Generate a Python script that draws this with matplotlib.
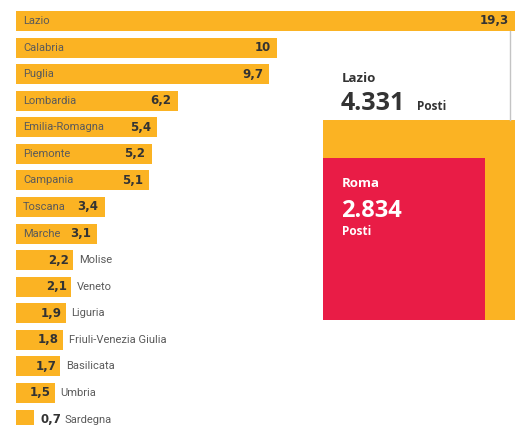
import matplotlib.pyplot as plt
import numpy as np
from matplotlib.patches import Rectangle

# posti per regione (valori in migliaia)
regioni = ["Lazio", "Calabria", "Puglia", "Lombardia", "Emilia-Romagna",
           "Piemonte", "Campania", "Toscana", "Marche", "Molise", "Veneto",
           "Liguria", "Friuli-Venezia Giulia", "Basilicata", "Umbria", "Sardegna"]
valori = [19.3, 10, 9.7, 6.2, 5.4, 5.2, 5.1, 3.4, 3.1, 2.2, 2.1, 1.9, 1.8,
          1.7, 1.5, 0.7]

posti_regione = 4331
posti_citta = 2834

YELLOW = "#fbb323"
RED = "#e91c46"
DARK = "#333333"
GREY = "#5a5a5a"
VAL_FONT = "DejaVu Sans"
BOX_FONT = "Open Sans"
NAME_FONT = "Roboto"

W, H = 515, 425
fig = plt.figure(figsize=(W / 100, H / 100), dpi=100)
fig.patch.set_facecolor("white")

# bar chart axes: 26.1 px per unit, bars start 16 px from the left
px_unit = 26.1
x0 = 16
step = 26.57
y0 = 21
ax = fig.add_axes([0, 0, 1, 1])
ax.set_xlim(-x0 / px_unit, (W - x0) / px_unit)
ax.set_ylim((H - y0) / step, -y0 / step)
ax.axis("off")
xmax = ax.get_xlim()[1]

pos = np.arange(len(regioni))
ax.barh(pos, valori, height=0.75, color=YELLOW, left=0)

def fmt(v):
    return f"{v:g}".replace(".", ",")

val_kw = dict(va="center", fontsize=8.5, color=DARK, family=VAL_FONT,
              fontweight="bold", textcoords="offset points")
name_kw = dict(va="center", fontsize=8, color=GREY, family=NAME_FONT,
               textcoords="offset points", ha="left")

for i, (nome, v) in enumerate(zip(regioni, valori)):
    end = min(v, xmax)  # the longest bar runs off the right edge
    if v >= 3:
        ax.annotate(nome, (0, i), xytext=(5, 0), **name_kw)
        ax.annotate(fmt(v), (end, i), xytext=(-4.5, 0), ha="right", **val_kw)
    elif v >= 1:
        ax.annotate(fmt(v), (v, i), xytext=(-3, 0), ha="right", **val_kw)
        ax.annotate(nome, (v, i), xytext=(4, 0), **name_kw)
    else:
        ax.annotate(fmt(v), (v, i), xytext=(4.5, 0), ha="left", **val_kw)
        ax.annotate(nome, (v, i), xytext=(22, 0), **name_kw)

# overlay in pixel coordinates for the area comparison
ov = fig.add_axes([0, 0, 1, 1], zorder=3)
ov.set_xlim(0, W)
ov.set_ylim(H, 0)
ov.axis("off")
ov.patch.set_alpha(0)

lato = 200
sx, sy = 323, 120
ov.add_patch(Rectangle((sx, sy), lato, lato, color=YELLOW, lw=0))
lato_roma = lato * np.sqrt(posti_citta / posti_regione)
ov.add_patch(Rectangle((sx, sy + lato - lato_roma), lato_roma, lato_roma,
                       color=RED, lw=0))

ov.plot([510, 510], [31, sy], color="#c4c4c4", lw=1)

ov.text(342, 82, "Lazio", fontsize=9.5, color=DARK, family=BOX_FONT,
        fontweight="bold", va="baseline")
ov.text(341, 110, f"{posti_regione:,}".replace(",", "."), fontsize=18,
        color=DARK, family=BOX_FONT, fontweight="bold", va="baseline")
ov.text(417, 110, "Posti", fontsize=8.5, color=DARK, family=BOX_FONT,
        fontweight="bold", va="baseline")

ov.text(342, 187, "Roma", fontsize=9.5, color="white", family=BOX_FONT,
        fontweight="bold", va="baseline")
ov.text(341, 217, f"{posti_citta:,}".replace(",", "."), fontsize=17,
        color="white", family=BOX_FONT, fontweight="bold", va="baseline")
ov.text(342, 235, "Posti", fontsize=8.5, color="white", family=BOX_FONT,
        fontweight="bold", va="baseline")

fig.savefig("out.png", dpi=100, facecolor="white")
